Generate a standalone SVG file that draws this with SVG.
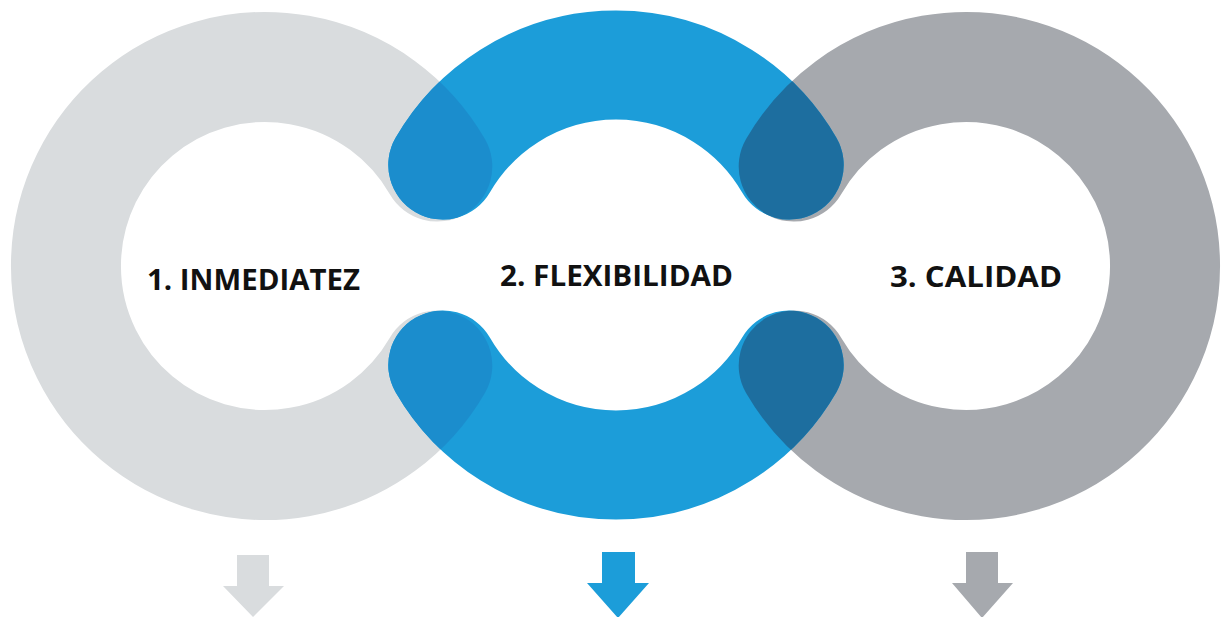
<svg xmlns="http://www.w3.org/2000/svg" width="1223" height="617" viewBox="0 0 1223 617">
<style>
.lbl{font-family:"Open Sans","Liberation Sans",sans-serif;font-weight:700;font-size:29px;fill:#111111}
.band{fill:none;stroke-width:110;stroke-linecap:round}
.bband{fill:none;stroke-width:109;stroke-linecap:round}
</style>
<defs>
<path id="arcL" d="M437.3,166.5 A199,199 0 1 0 437.3,365.5"/>
<path id="arcR" d="M793.7,166.5 A199,199 0 1 1 793.7,365.5"/>
<path id="arcTop" d="M442.8,165 A200,200 0 0 1 789.2,165"/>
<path id="arcBot" d="M442.8,365 A200,200 0 0 0 789.2,365"/>
<mask id="mL" maskUnits="userSpaceOnUse" x="0" y="0" width="1223" height="617">
<use href="#arcL" class="band" stroke="#ffffff"/>
</mask>
<mask id="mR" maskUnits="userSpaceOnUse" x="0" y="0" width="1223" height="617">
<use href="#arcR" class="band" stroke="#ffffff"/>
</mask>
</defs>
<rect width="1223" height="617" fill="#ffffff"/>
<g id="node-1">
<use href="#arcL" class="band" stroke="#d9dcde"/>
<text class="lbl" x="147" y="290" textLength="213" lengthAdjust="spacingAndGlyphs">1. INMEDIATEZ</text>
</g>
<g id="node-3">
<use href="#arcR" class="band" stroke="#a6a9ae"/>
<text class="lbl" x="890" y="287" textLength="172" lengthAdjust="spacingAndGlyphs">3. CALIDAD</text>
</g>
<g id="node-2">
<use href="#arcTop" class="bband" stroke="#1c9dd9"/>
<use href="#arcBot" class="bband" stroke="#1c9dd9"/>
<g mask="url(#mL)">
<use href="#arcTop" class="bband" stroke="#1b8dcd"/>
<use href="#arcBot" class="bband" stroke="#1b8dcd"/>
</g>
<g mask="url(#mR)">
<use href="#arcTop" class="bband" stroke="#1d6e9f"/>
<use href="#arcBot" class="bband" stroke="#1d6e9f"/>
</g>
<text class="lbl" x="500" y="286" textLength="233" lengthAdjust="spacingAndGlyphs">2. FLEXIBILIDAD</text>
</g>
<g id="connectors">
<path d="M237,555 H269 V586 H284 L253,617 L223,586 H237 Z" fill="#d9dcde"/>
<path d="M602,552 H635 V583 H649 L618,618 L587,583 H602 Z" fill="#1c9dd9"/>
<path d="M966,552 H998 V583 H1013 L982,618 L952,583 H966 Z" fill="#a6a9ae"/>
</g>
</svg>
